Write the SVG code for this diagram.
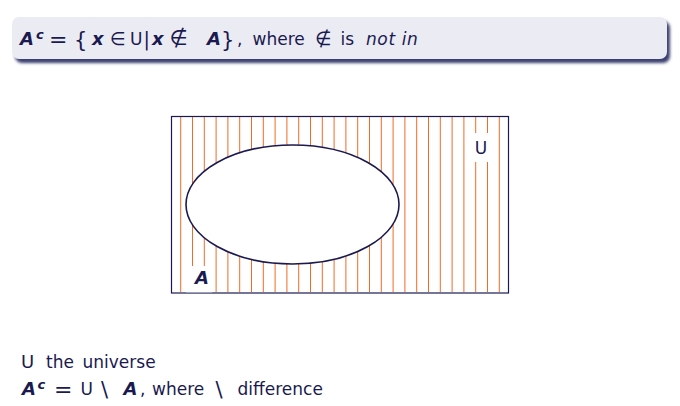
<svg xmlns="http://www.w3.org/2000/svg" width="680" height="406" viewBox="0 0 680 406">
<style>
.t{font-family:"DejaVu Sans","Liberation Sans",sans-serif;font-size:17px;fill:#1a1a50}
.b{font-weight:bold}
.bi{font-weight:bold;font-style:italic;font-size:18px}
.i{font-style:italic}
.sup{font-weight:bold;font-style:italic;font-size:13px}
.eq{font-size:22px}
.br{font-size:21px}
.sl{font-size:21px}
.h{stroke:#f26a28;stroke-width:1}
</style>
<defs>
<filter id="sh" x="-5%" y="-30%" width="110%" height="180%">
<feGaussianBlur stdDeviation="1.5"/>
</filter>
</defs>
<rect width="680" height="406" fill="#fff"/>
<g id="title">
<rect x="15" y="21" width="655" height="42" rx="7" fill="#3a3f6e" filter="url(#sh)"/>
<rect x="12" y="17" width="655" height="42" rx="7" fill="#ebebf3"/>
<text class="t" y="45"><tspan class="bi" x="20">A</tspan><tspan class="sup" x="36" y="39">c</tspan><tspan class="eq" x="49" y="47">=</tspan><tspan class="br" x="74" y="47">{</tspan><tspan class="bi" x="92" y="45">x</tspan><tspan font-size="18" x="110">∈</tspan><tspan x="130">U</tspan><tspan font-size="19" x="143.5" y="46">|</tspan><tspan class="bi" x="152" y="45">x</tspan><tspan font-size="21" x="169.5">∉</tspan><tspan class="bi" x="207">A</tspan><tspan class="br" x="221" y="47">}</tspan><tspan x="237" y="45">,</tspan><tspan x="252.5">where</tspan><tspan font-size="19" x="315">∉</tspan><tspan x="340.5">is</tspan><tspan class="i" x="366" letter-spacing="0.6">not in</tspan></text>
</g>
<g id="universe">
<g id="hatch">
<line class="h" x1="180.7" y1="117" x2="180.7" y2="292"/>
<line class="h" x1="192.5" y1="117" x2="192.5" y2="292"/>
<line class="h" x1="204.3" y1="117" x2="204.3" y2="292"/>
<line class="h" x1="216.1" y1="117" x2="216.1" y2="292"/>
<line class="h" x1="227.9" y1="117" x2="227.9" y2="292"/>
<line class="h" x1="239.7" y1="117" x2="239.7" y2="292"/>
<line class="h" x1="251.5" y1="117" x2="251.5" y2="292"/>
<line class="h" x1="263.3" y1="117" x2="263.3" y2="292"/>
<line class="h" x1="275.1" y1="117" x2="275.1" y2="292"/>
<line class="h" x1="286.9" y1="117" x2="286.9" y2="292"/>
<line class="h" x1="298.7" y1="117" x2="298.7" y2="292"/>
<line class="h" x1="310.5" y1="117" x2="310.5" y2="292"/>
<line class="h" x1="322.3" y1="117" x2="322.3" y2="292"/>
<line class="h" x1="334.1" y1="117" x2="334.1" y2="292"/>
<line class="h" x1="345.9" y1="117" x2="345.9" y2="292"/>
<line class="h" x1="357.7" y1="117" x2="357.7" y2="292"/>
<line class="h" x1="369.5" y1="117" x2="369.5" y2="292"/>
<line class="h" x1="381.3" y1="117" x2="381.3" y2="292"/>
<line class="h" x1="393.1" y1="117" x2="393.1" y2="292"/>
<line class="h" x1="404.9" y1="117" x2="404.9" y2="292"/>
<line class="h" x1="416.7" y1="117" x2="416.7" y2="292"/>
<line class="h" x1="428.5" y1="117" x2="428.5" y2="292"/>
<line class="h" x1="440.3" y1="117" x2="440.3" y2="292"/>
<line class="h" x1="452.1" y1="117" x2="452.1" y2="292"/>
<line class="h" x1="463.9" y1="117" x2="463.9" y2="292"/>
<line class="h" x1="475.7" y1="117" x2="475.7" y2="292"/>
<line class="h" x1="487.5" y1="117" x2="487.5" y2="292"/>
<line class="h" x1="499.3" y1="117" x2="499.3" y2="292"/>
</g>
<rect x="171.5" y="116.5" width="337" height="176.5" fill="none" stroke="#1a1a50" stroke-width="1.2"/>
<rect x="470" y="133" width="24" height="29" fill="#fff"/>
<text class="t" x="481" y="154" text-anchor="middle" font-size="18">U</text>
</g>
<g id="setA">
<ellipse cx="292.5" cy="204.5" rx="106.5" ry="59.5" fill="#fff" stroke="#1a1a50" stroke-width="1.6"/>
<rect x="186" y="266" width="26" height="26.3" fill="#fff"/>
<text class="t bi" x="202" y="284" text-anchor="middle">A</text>
</g>
<g id="notes">
<text class="t" y="368"><tspan x="21" font-size="18">U</tspan><tspan x="46">the</tspan><tspan x="82.5">universe</tspan></text>
<text class="t" y="395"><tspan class="bi" x="22">A</tspan><tspan class="sup" x="37.5" y="389">c</tspan><tspan class="eq" x="54" y="397">=</tspan><tspan x="80.5" y="395">U</tspan><tspan class="sl" x="101" y="397">\</tspan><tspan class="bi" x="123.5" y="395">A</tspan><tspan x="140">,</tspan><tspan x="152">where</tspan><tspan class="sl" x="215.5" y="397">\</tspan><tspan x="237.5" y="395">difference</tspan></text>
</g>
</svg>
